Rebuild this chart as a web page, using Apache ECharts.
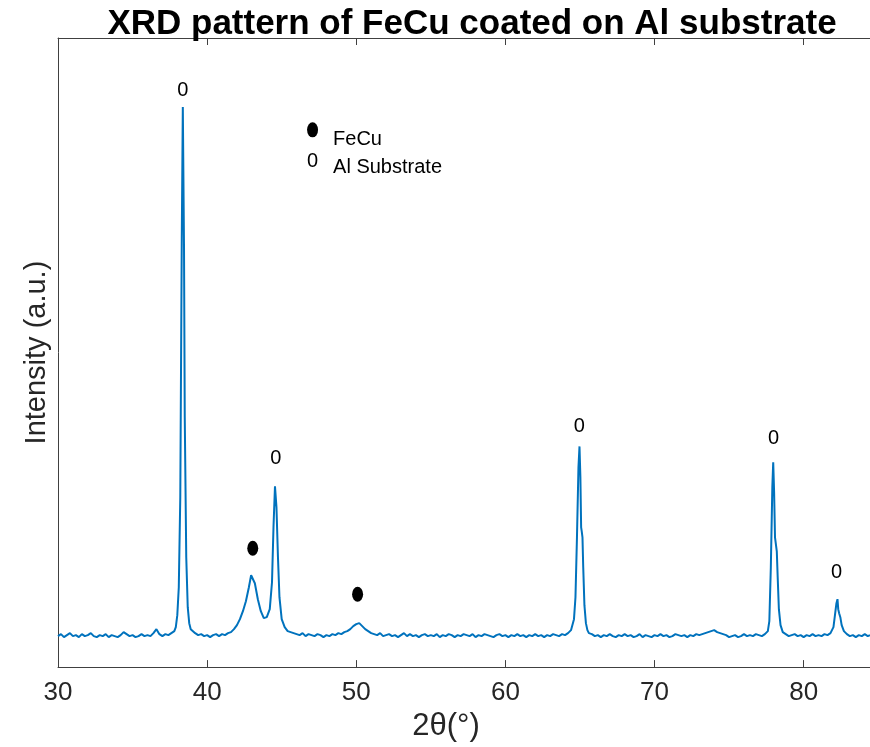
<!DOCTYPE html>
<html>
<head>
<meta charset="utf-8">
<script src="https://cdn.jsdelivr.net/npm/echarts@6/dist/echarts.min.js"></script>
<style>
  html, body { margin: 0; padding: 0; background: #fff; }
  #chart { width: 870px; height: 747px; }
</style>
</head>
<body>
<div id="chart"></div>
<script>
// 2theta (deg), intensity (a.u.)
var pattern = [
  [30.0,31],[30.2,33],[30.4,30],[30.6,32],[30.8,34],[31.0,31],[31.2,32],[31.4,30],[31.6,33],[31.8,31],
  [32.0,32],[32.2,34],[32.4,31],[32.6,30],[32.8,32],[33.0,31],[33.2,33],[33.4,30],[33.6,32],[33.8,31],
  [34.0,30],[34.2,32],[34.4,35],[34.5,37],[34.6,33],[34.8,31],[35.0,32],[35.2,30],[35.4,31],[35.6,33],
  [35.8,31],[36.0,32],[36.2,31],[36.4,34],[36.6,38],[36.8,33],[37.0,31],[37.2,33],[37.4,32],[37.6,34],
  [37.8,36],[37.9,40],[38.0,52],[38.1,80],[38.2,170],[38.3,430],[38.37,561],[38.45,420],[38.5,250],[38.6,110],
  [38.7,60],[38.8,44],[38.9,38],[39.0,36],[39.2,34],[39.4,32],[39.6,33],[39.8,31],[40.0,32],[40.2,30],
  [40.4,32],[40.6,33],[40.8,31],[41.0,33],[41.2,32],[41.4,34],[41.6,35],[41.8,38],[42.0,42],[42.2,48],
  [42.4,56],[42.6,66],[42.8,80],[42.95,92],[43.05,94],[43.2,84],[43.4,68],[43.6,56],[43.8,49],[44.0,50],
  [44.2,58],[44.35,85],[44.45,140],[44.55,181],[44.65,160],[44.75,110],[44.85,70],[45.0,48],[45.2,40],[45.4,36],
  [45.6,35],[45.8,34],[46.0,33],[46.2,32],[46.4,34],[46.6,31],[46.8,33],[47.0,32],[47.2,31],[47.4,33],
  [47.6,32],[47.8,30],[48.0,32],[48.2,31],[48.4,33],[48.6,32],[48.8,34],[49.0,33],[49.2,35],[49.4,36],
  [49.6,38],[49.8,41],[50.0,43],[50.2,44],[50.4,41],[50.6,38],[50.8,36],[51.0,34],[51.2,33],[51.4,32],
  [51.6,34],[51.8,31],[52.0,32],[52.2,33],[52.4,31],[52.6,32],[52.8,30],[53.0,32],[53.2,34],[53.4,31],
  [53.6,33],[53.8,31],[54.0,32],[54.2,30],[54.4,32],[54.6,33],[54.8,31],[55.0,32],[55.2,31],[55.4,33],
  [55.6,30],[55.8,32],[56.0,31],[56.2,33],[56.4,32],[56.6,30],[56.8,32],[57.0,31],[57.2,33],[57.4,32],
  [57.6,31],[57.8,33],[58.0,30],[58.2,32],[58.4,31],[58.6,33],[58.8,32],[59.0,31],[59.2,30],[59.4,32],
  [59.6,33],[59.8,31],[60.0,32],[60.2,30],[60.4,32],[60.6,31],[60.8,33],[61.0,31],[61.2,32],[61.4,30],
  [61.6,32],[61.8,31],[62.0,33],[62.2,31],[62.4,32],[62.6,30],[62.8,32],[63.0,31],[63.2,33],[63.4,32],
  [63.6,31],[63.8,33],[64.0,32],[64.2,34],[64.4,37],[64.6,48],[64.7,70],[64.8,130],[64.9,200],[64.97,221],
  [65.03,190],[65.08,140],[65.12,136],[65.17,130],[65.22,100],[65.3,62],[65.4,44],[65.5,37],[65.6,34],[65.8,33],
  [66.0,31],[66.2,32],[66.4,30],[66.6,32],[66.8,31],[67.0,33],[67.2,31],[67.4,30],[67.6,32],[67.8,31],
  [68.0,33],[68.2,31],[68.4,32],[68.6,30],[68.8,31],[69.0,33],[69.2,30],[69.4,32],[69.6,31],[69.8,30],
  [70.0,32],[70.2,31],[70.4,33],[70.6,31],[70.8,32],[71.0,30],[71.2,31],[71.4,33],[71.6,32],[71.8,31],
  [72.0,32],[72.2,30],[72.4,32],[72.6,31],[72.8,33],[73.0,32],[73.2,33],[73.4,34],[73.6,35],[73.8,36],
  [74.0,37],[74.2,35],[74.4,34],[74.6,33],[74.8,32],[75.0,30],[75.2,31],[75.4,32],[75.6,30],[75.8,31],
  [76.0,33],[76.2,31],[76.4,32],[76.6,31],[76.8,33],[77.0,32],[77.2,31],[77.4,33],[77.6,36],[77.7,46],
  [77.8,100],[77.9,180],[77.96,205],[78.02,175],[78.08,130],[78.14,123],[78.2,116],[78.26,90],[78.34,58],[78.45,42],
  [78.6,35],[78.8,33],[79.0,31],[79.2,32],[79.4,33],[79.6,31],[79.8,32],[80.0,30],[80.2,32],[80.4,31],
  [80.6,33],[80.8,31],[81.0,32],[81.2,31],[81.4,33],[81.6,32],[81.8,34],[82.0,40],[82.1,52],[82.2,64],
  [82.27,68],[82.32,58],[82.38,54],[82.46,50],[82.55,42],[82.7,36],[82.9,33],[83.1,31],[83.3,32],[83.5,30],
  [83.7,32],[83.9,31],[84.1,33],[84.3,31],[84.45,32]
];

// peak markers
var alPeaks = [[38.37, 577], [44.6, 209], [64.95, 241], [77.98, 229], [82.2, 95]];
var feCuPeaks = [[43.06, 119], [50.09, 73]];

// hand-made legend entries (as in the original figure)
var legendKeys = [
  { pos: [47.07, 538], text: 'FeCu', kind: 'dot' },
  { pos: [47.07, 506], text: 'Al Substrate', kind: 'zero' }
];

var xTicks = [30, 40, 50, 60, 70, 80];

var fontName = 'Liberation Sans, Arial, sans-serif';
var axisColor = '#404040';

var chart = echarts.init(document.getElementById('chart'));

var option = {
  backgroundColor: '#fff',
  animation: false,
  title: {
    text: 'XRD pattern of FeCu coated on Al substrate',
    left: 467,
    textAlign: 'center',
    top: 2,
    textStyle: { fontFamily: fontName, fontWeight: 'bold', fontSize: 35, color: '#000' }
  },
  grid: { left: 58, right: 0, top: 38, bottom: 79 },
  xAxis: [{
    type: 'value',
    min: 30,
    max: 84.45,
    interval: 10,
    position: 'bottom',
    name: '2θ(°)',
    nameLocation: 'middle',
    nameGap: 36,
    nameTextStyle: { fontFamily: fontName, fontSize: 31, color: '#262626', padding: [0, 36, 0, 0] },
    axisLine: { show: true, lineStyle: { color: axisColor, width: 1 } },
    axisTick: { show: true, inside: true, length: 7, lineStyle: { color: axisColor } },
    axisLabel: {
      margin: 13, fontFamily: fontName, fontSize: 26, color: '#262626', showMaxLabel: false,
      formatter: function (v) { return xTicks.indexOf(v) >= 0 ? String(v) : ''; }
    },
    splitLine: { show: false }
  }, {
    type: 'value',
    min: 30,
    max: 84.45,
    interval: 10,
    position: 'top',
    axisLine: { show: true, lineStyle: { color: axisColor, width: 1 } },
    axisTick: { show: true, inside: true, length: 7, lineStyle: { color: axisColor } },
    axisLabel: { show: false },
    splitLine: { show: false }
  }],
  yAxis: {
    type: 'value',
    min: 0,
    max: 630,
    name: 'Intensity (a.u.)',
    nameLocation: 'middle',
    nameGap: 7,
    nameTextStyle: { fontFamily: fontName, fontSize: 29, color: '#262626' },
    axisLine: { show: true, lineStyle: { color: axisColor, width: 1 } },
    axisTick: { show: false },
    axisLabel: { show: false },
    splitLine: { show: false }
  },
  series: [{
    name: 'XRD',
    type: 'line',
    data: pattern,
    showSymbol: false,
    lineStyle: { color: '#0072BD', width: 2 },
    z: 2
  }, {
    name: 'Al',
    type: 'scatter',
    data: alPeaks,
    symbolSize: 1,
    itemStyle: { color: 'rgba(0,0,0,0)', opacity: 1 },
    label: {
      show: true, position: 'inside', formatter: '0',
      fontFamily: fontName, fontSize: 20, color: '#000'
    },
    z: 3
  }, {
    name: 'FeCu',
    type: 'scatter',
    data: feCuPeaks,
    symbol: 'circle',
    symbolSize: [11, 15],
    itemStyle: { color: '#000', opacity: 1 },
    z: 3
  }, {
    name: 'legendKeys',
    type: 'scatter',
    data: legendKeys.map(function (k) {
      return {
        value: k.pos,
        symbol: 'circle',
        symbolSize: k.kind === 'dot' ? [11, 15] : 1,
        itemStyle: { color: k.kind === 'dot' ? '#000' : 'rgba(0,0,0,0)', opacity: 1 },
        label: {
          show: true,
          position: 'inside',
          formatter: k.kind === 'dot' ? '' : '0',
          fontFamily: fontName, fontSize: 20, color: '#000'
        }
      };
    }),
    z: 3
  }, {
    name: 'legendText',
    type: 'scatter',
    data: legendKeys.map(function (k, i) {
      return {
        value: k.pos,
        symbolSize: 1,
        itemStyle: { color: 'rgba(0,0,0,0)', opacity: 1 },
        label: {
          show: true,
          position: 'right',
          distance: 20,
          offset: [0, i === 0 ? 10 : 6],
          formatter: k.text,
          fontFamily: fontName, fontSize: 20, color: '#000'
        }
      };
    }),
    z: 3
  }]
};

chart.setOption(option);
</script>
</body>
</html>
